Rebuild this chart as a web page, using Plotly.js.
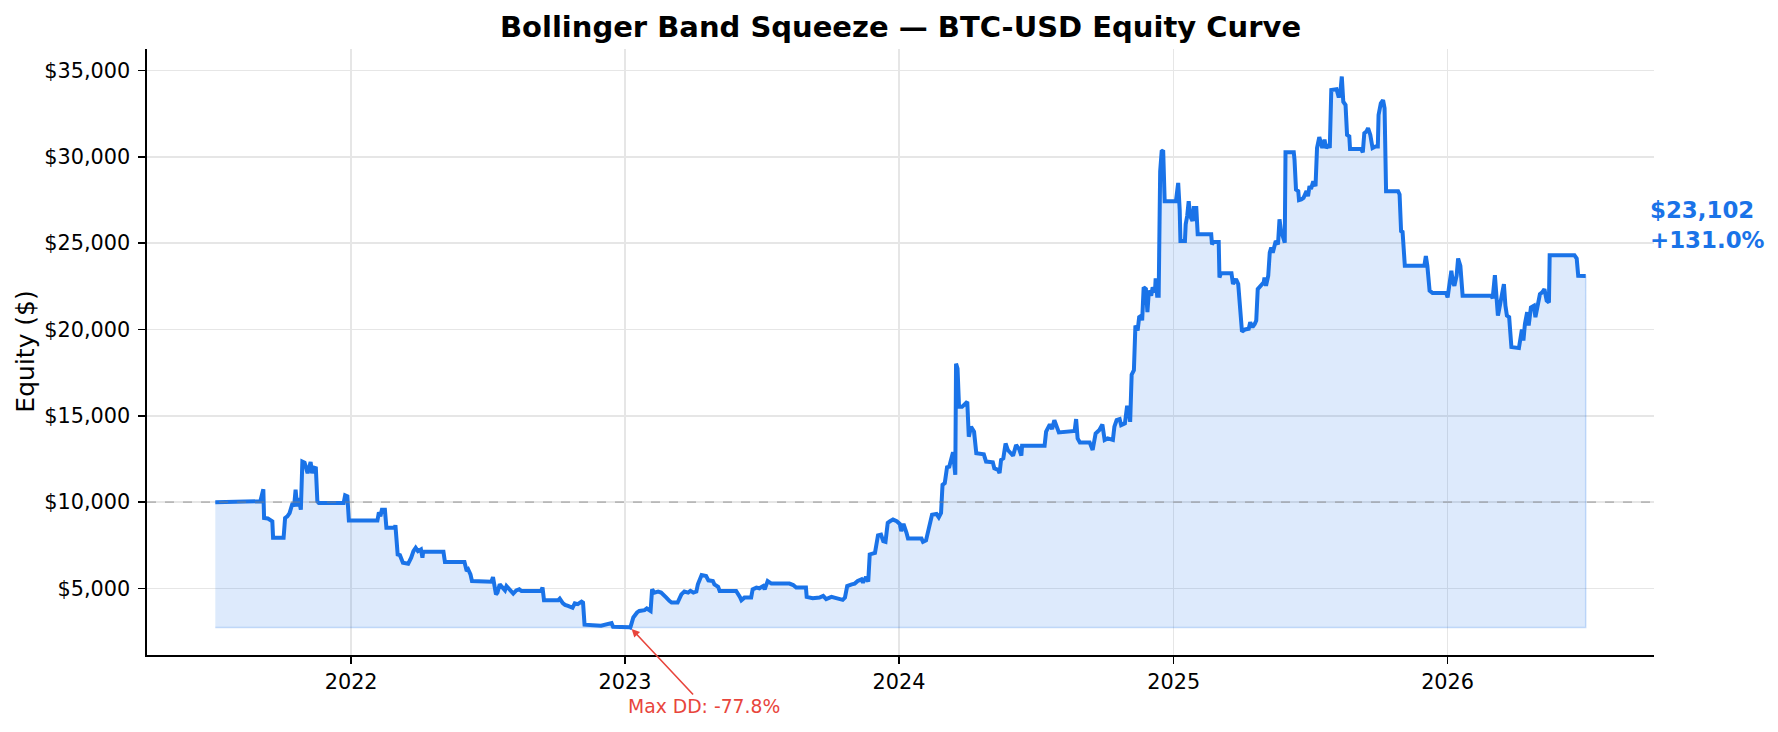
<!DOCTYPE html>
<html>
<head>
<meta charset="utf-8">
<script src="https://cdn.plot.ly/plotly-3.0.1.min.js"></script>
<style>
  html, body { margin: 0; padding: 0; background: #fff; }
  #chart { width: 1778px; height: 732px; }
</style>
</head>
<body>
<div id="chart"></div>
<script>
// ---- data ----
const dates = [
  "2021-07-04","2021-09-01","2021-09-02","2021-09-06","2021-09-07","2021-09-12","2021-09-18","2021-09-19",
  "2021-10-03","2021-10-05","2021-10-08","2021-10-11","2021-10-15","2021-10-17","2021-10-19","2021-10-21",
  "2021-10-23","2021-10-26","2021-10-28","2021-10-31","2021-11-04","2021-11-08","2021-11-10","2021-11-12",
  "2021-11-15","2021-11-17","2021-11-19","2021-12-22","2021-12-24","2021-12-27","2021-12-29",
  "2022-02-05","2022-02-07","2022-02-09","2022-02-11","2022-02-15","2022-02-17","2022-02-28","2022-03-01",
  "2022-03-04","2022-03-07","2022-03-11","2022-03-18","2022-03-22","2022-03-25","2022-03-28","2022-03-31",
  "2022-04-04","2022-04-06","2022-04-07","2022-05-04","2022-05-06","2022-06-01","2022-06-04","2022-06-06",
  "2022-06-09","2022-06-11","2022-07-07","2022-07-09","2022-07-13","2022-07-15","2022-07-18","2022-07-21",
  "2022-07-25","2022-07-27","2022-07-30","2022-08-02","2022-08-05","2022-08-09","2022-08-13","2022-08-16",
  "2022-09-11","2022-09-13","2022-09-15","2022-10-04","2022-10-06","2022-10-10","2022-10-13","2022-10-17",
  "2022-10-23","2022-10-26","2022-10-30","2022-11-04","2022-11-06","2022-11-08","2022-11-30","2022-12-14",
  "2022-12-16","2023-01-07","2023-01-08","2023-01-09","2023-01-12","2023-01-17","2023-01-20","2023-01-27",
  "2023-01-30","2023-02-04","2023-02-06","2023-02-09","2023-02-14","2023-02-18","2023-02-21","2023-02-25",
  "2023-03-01","2023-03-04","2023-03-12","2023-03-17","2023-03-21","2023-03-26","2023-03-29","2023-04-02",
  "2023-04-06","2023-04-08","2023-04-13","2023-04-19","2023-04-22","2023-04-28","2023-04-30","2023-05-05",
  "2023-05-07","2023-05-29","2023-06-03","2023-06-05","2023-06-09","2023-06-18","2023-06-20","2023-06-25",
  "2023-06-29","2023-07-04","2023-07-06","2023-07-10","2023-07-15","2023-08-08","2023-08-13","2023-08-17",
  "2023-08-30","2023-08-31","2023-09-08","2023-09-17","2023-09-22","2023-09-26","2023-10-03","2023-10-07",
  "2023-10-14","2023-10-18","2023-10-21","2023-10-24","2023-10-30","2023-11-03","2023-11-07","2023-11-12",
  "2023-11-14","2023-11-18","2023-11-21","2023-11-23","2023-11-30","2023-12-04","2023-12-08","2023-12-11",
  "2023-12-14","2023-12-17","2023-12-20","2023-12-24","2023-12-29",
  "2024-01-02","2024-01-04","2024-01-07","2024-01-11","2024-01-13","2024-01-31","2024-02-02","2024-02-06",
  "2024-02-10","2024-02-14","2024-02-20","2024-02-23","2024-02-26","2024-02-28","2024-03-02","2024-03-05",
  "2024-03-08","2024-03-11","2024-03-13","2024-03-16","2024-03-17","2024-03-19","2024-03-21","2024-03-25",
  "2024-03-28","2024-04-01","2024-04-03","2024-04-06","2024-04-10","2024-04-13","2024-04-23","2024-04-26",
  "2024-05-05","2024-05-07","2024-05-12","2024-05-14","2024-05-16","2024-05-19","2024-05-22","2024-05-25",
  "2024-05-29","2024-06-01","2024-06-05","2024-06-09","2024-06-12","2024-06-13","2024-07-13","2024-07-15",
  "2024-07-20","2024-07-23","2024-07-26","2024-07-29","2024-08-01","2024-08-22","2024-08-24","2024-08-26",
  "2024-08-29","2024-09-11","2024-09-15","2024-09-19","2024-09-24","2024-09-28","2024-10-01","2024-10-05",
  "2024-10-12","2024-10-14","2024-10-17","2024-10-21","2024-10-23","2024-10-28","2024-10-31","2024-11-02",
  "2024-11-04","2024-11-06","2024-11-09","2024-11-11","2024-11-14","2024-11-16","2024-11-19","2024-11-20",
  "2024-11-22","2024-11-25","2024-11-27","2024-11-29","2024-12-02","2024-12-04","2024-12-07","2024-12-08",
  "2024-12-10","2024-12-12","2024-12-13","2024-12-14","2024-12-16","2024-12-18","2024-12-20",
  "2025-01-04","2025-01-07","2025-01-09","2025-01-10","2025-01-16","2025-01-17","2025-01-19","2025-01-21",
  "2025-01-23","2025-01-26","2025-01-28","2025-01-30","2025-01-31","2025-02-02","2025-02-20","2025-02-21",
  "2025-02-23","2025-03-02","2025-03-03","2025-03-05","2025-03-19","2025-03-21","2025-03-25","2025-03-28",
  "2025-03-31","2025-04-02","2025-04-06","2025-04-11","2025-04-13","2025-04-16","2025-04-19","2025-04-21",
  "2025-04-23","2025-04-28","2025-05-01","2025-05-02","2025-05-04","2025-05-07","2025-05-09","2025-05-11",
  "2025-05-13","2025-05-17","2025-05-20","2025-05-22","2025-05-24","2025-05-27","2025-05-29","2025-05-30",
  "2025-06-10","2025-06-11","2025-06-13","2025-06-16","2025-06-17","2025-06-20","2025-06-23","2025-06-27",
  "2025-06-29","2025-07-01","2025-07-03","2025-07-06","2025-07-09","2025-07-11","2025-07-14","2025-07-18",
  "2025-07-21","2025-07-23","2025-07-26","2025-07-28","2025-07-30","2025-08-06","2025-08-09","2025-08-11",
  "2025-08-13","2025-08-15","2025-08-18","2025-08-20","2025-08-23","2025-08-24","2025-09-08","2025-09-10",
  "2025-09-12","2025-09-15","2025-09-17","2025-09-20","2025-09-23","2025-09-27","2025-09-30","2025-10-01",
  "2025-10-04","2025-10-07","2025-10-09","2025-10-11","2025-10-27","2025-10-29","2025-10-31","2025-11-02",
  "2025-11-05","2025-12-01","2025-12-03","2025-12-05","2025-12-08","2025-12-12","2025-12-30",
  "2026-01-01","2026-01-04","2026-01-06","2026-01-08","2026-01-10","2026-01-13","2026-01-15","2026-01-18",
  "2026-01-21","2026-02-28","2026-03-02","2026-03-05","2026-03-07","2026-03-09","2026-03-10","2026-03-13",
  "2026-03-17","2026-03-19","2026-03-21","2026-03-24","2026-03-27","2026-04-06","2026-04-08","2026-04-10",
  "2026-04-12","2026-04-14","2026-04-17","2026-04-19","2026-04-22","2026-04-26","2026-04-28","2026-05-01",
  "2026-05-04","2026-05-07","2026-05-10","2026-05-13","2026-05-16","2026-05-17","2026-06-19","2026-06-22",
  "2026-06-24","2026-07-04"
];

const equity = [
  10000,10000,10050,10750,9080,9050,8890,7930,
  7930,9080,9180,9370,9950,9750,10715,9755,
  10230,9560,12350,12290,11675,12330,11675,12000,
  11960,10040,9946,9946,10390,10330,8930,
  8930,9410,9180,9560,9560,8510,8510,8660,
  6970,6930,6490,6430,6780,7160,7350,7160,
  7260,6780,7120,7120,6530,6530,6010,6100,
  5820,5430,5390,5660,4660,4760,5240,5050,
  4890,5140,5010,4850,4700,4890,4950,4850,
  4850,5050,4320,4320,4410,4150,4050,3990,
  3880,4140,4090,4240,4180,2900,2840,2990,
  2780,2760,2741,2880,3320,3610,3700,3740,
  3840,3700,4950,4760,4820,4760,4660,4470,
  4280,4180,4180,4660,4820,4760,4860,4760,
  4820,5240,5780,5720,5470,5430,5240,5090,
  4860,4860,4510,4320,4470,4470,4950,5050,
  5010,5140,4950,5430,5280,5280,5200,5050,
  5050,4510,4430,4470,4570,4380,4510,4470,
  4380,4340,4470,5140,5240,5280,5430,5530,
  5340,5660,5390,6970,7060,8080,8120,7740,
  7700,8800,8890,8990,8890,
  8740,8320,8740,8220,7890,7890,7700,7780,
  8600,9270,9310,9120,9370,11000,11100,12020,
  12060,12730,12890,11580,18020,17730,15520,15520,
  15650,15810,13790,14370,14080,12830,12770,12350,
  12310,11960,11870,11680,12450,12540,13400,13020,
  12830,12690,13310,13080,12690,13270,13270,14080,
  14500,14230,14750,14370,14040,14120,14810,13690,
  13460,13460,13020,13980,14180,14500,13600,13690,
  13600,14370,14750,14810,14460,14560,15580,15330,
  14650,17380,17640,20230,19940,20710,20800,20520,
  22440,22340,21000,22250,21960,22440,22150,22960,
  21960,21960,29070,29160,30310,30370,27430,
  27430,28490,26950,25130,25130,26090,26570,27430,
  26570,26280,27140,26280,27140,25510,25510,24930,
  25070,25070,23010,23260,23260,22630,22920,22630,
  20520,19880,20000,20040,20420,20130,20320,20520,
  22340,22630,22730,23010,22530,23110,24450,24740,
  24450,25130,24930,26380,25700,25320,25030,30260,
  30260,29830,28100,28010,27490,27530,27620,28010,
  27720,28300,28140,28580,28300,30510,31140,30510,
  30990,30510,30700,30510,33870,33910,33440,33680,
  34650,33190,33000,31270,31180,30450,30450,30260,
  31370,31470,31660,31270,30510,30600,30600,32430,
  33100,33290,32810,28010,28010,27820,25700,25650,
  23690,23690,24260,23690,22250,22110,22110,
  21860,22920,23400,22730,22530,23110,24110,23690,
  21960,21960,21800,23150,21860,20800,21000,21760,
  22630,21380,20800,20710,18980,18920,19650,20000,
  19360,20320,21000,20230,21280,21380,20710,21280,
  22050,22150,22340,21670,21570,24300,24300,24110,
  23110,23102
];

const startEquity = 10000;
const yTickVals = [5000, 10000, 15000, 20000, 25000, 30000, 35000];
const yTickText = ["$5,000", "$10,000", "$15,000", "$20,000", "$25,000", "$30,000", "$35,000"];
const xTickVals = ["2022-01-01", "2023-01-01", "2024-01-01", "2025-01-01", "2026-01-01"];
const xTickText = ["2022", "2023", "2024", "2025", "2026"];
const titleText = "Bollinger Band Squeeze — BTC-USD Equity Curve";
const yLabel = "Equity ($)";
const ddLabel = "Max DD: -77.8%";
const endLabel = "$23,102<br>+131.0%";

// ---- derived ----
const minVal = Math.min(...equity);
const minIdx = equity.indexOf(minVal);
const lastIdx = equity.length - 1;

const FONT = "DejaVu Sans, sans-serif";
const BLUE = "#1a73e8";
const RED = "#e8453c";

const fillTrace = {
  x: dates.concat([dates[lastIdx], dates[0]]),
  y: equity.concat([minVal, minVal]),
  type: "scatter", mode: "lines",
  fill: "toself",
  fillcolor: "rgba(26,115,232,0.15)",
  line: { color: "rgba(26,115,232,0.22)", width: 1.5 },
  hoverinfo: "skip", showlegend: false
};

const lineTrace = {
  x: dates, y: equity,
  type: "scatter", mode: "lines",
  line: { color: BLUE, width: 4 },
  showlegend: false
};

const layout = {
  width: 1778, height: 732,
  paper_bgcolor: "#ffffff", plot_bgcolor: "#ffffff",
  margin: { l: 147, r: 124, t: 49, b: 77 },
  font: { family: FONT, size: 20.8, color: "#000" },
  showlegend: false,
  title: {
    text: titleText,
    font: { family: FONT, size: 29, color: "#000", weight: "bold" },
    x: 0.5, xref: "paper", xanchor: "center",
    y: 1 - 27 / 732, yref: "container", yanchor: "middle"
  },
  xaxis: {
    type: "date",
    range: ["2021-04-04", "2026-10-03"],
    tickvals: xTickVals, ticktext: xTickText,
    showgrid: true, gridcolor: "#e6e6e6", gridwidth: 1.5,
    showline: true, linecolor: "#000", linewidth: 1.6,
    ticks: "outside", ticklen: 7, tickwidth: 1.6, tickcolor: "#000",
    tickfont: { family: FONT, size: 20.8, color: "#000" },
    zeroline: false, mirror: false
  },
  yaxis: {
    range: [1146, 36245],
    tickvals: yTickVals, ticktext: yTickText,
    showgrid: true, gridcolor: "#e6e6e6", gridwidth: 1.5,
    showline: true, linecolor: "#000", linewidth: 1.6,
    ticks: "outside", ticklen: 7, tickwidth: 1.6, tickcolor: "#000",
    tickfont: { family: FONT, size: 20.8, color: "#000" },
    ticklabelstandoff: 4,
    zeroline: false, mirror: false
  },
  shapes: [{
    type: "line", xref: "paper", x0: 0, x1: 1, yref: "y", y0: startEquity, y1: startEquity,
    line: { color: "rgba(128,128,128,0.45)", width: 1.6, dash: "dash" },
    layer: "above"
  }],
  annotations: [
    {
      text: yLabel, xref: "paper", yref: "paper", x: -0.0812, y: 0.5,
      xanchor: "center", yanchor: "middle", textangle: -90, showarrow: false,
      font: { family: FONT, size: 25, color: "#000" }
    },
    {
      x: dates[minIdx], y: minVal, xref: "x", yref: "y",
      text: ddLabel, showarrow: true,
      arrowhead: 2, arrowsize: 1, arrowwidth: 1.6, arrowcolor: RED,
      ax: 74, ay: 79, standoff: 2,
      font: { family: FONT, size: 18.75, color: RED }
    },
    {
      x: dates[lastIdx], y: equity[lastIdx], xref: "x", yref: "y",
      text: "<b>" + endLabel + "</b>", showarrow: false,
      xanchor: "left", yanchor: "middle", align: "left",
      xshift: 62, yshift: 51,
      font: { family: FONT, size: 22.9, color: BLUE }
    }
  ]
};

Plotly.newPlot("chart", [fillTrace, lineTrace], layout, { staticPlot: true, displayModeBar: false });
</script>
</body>
</html>
